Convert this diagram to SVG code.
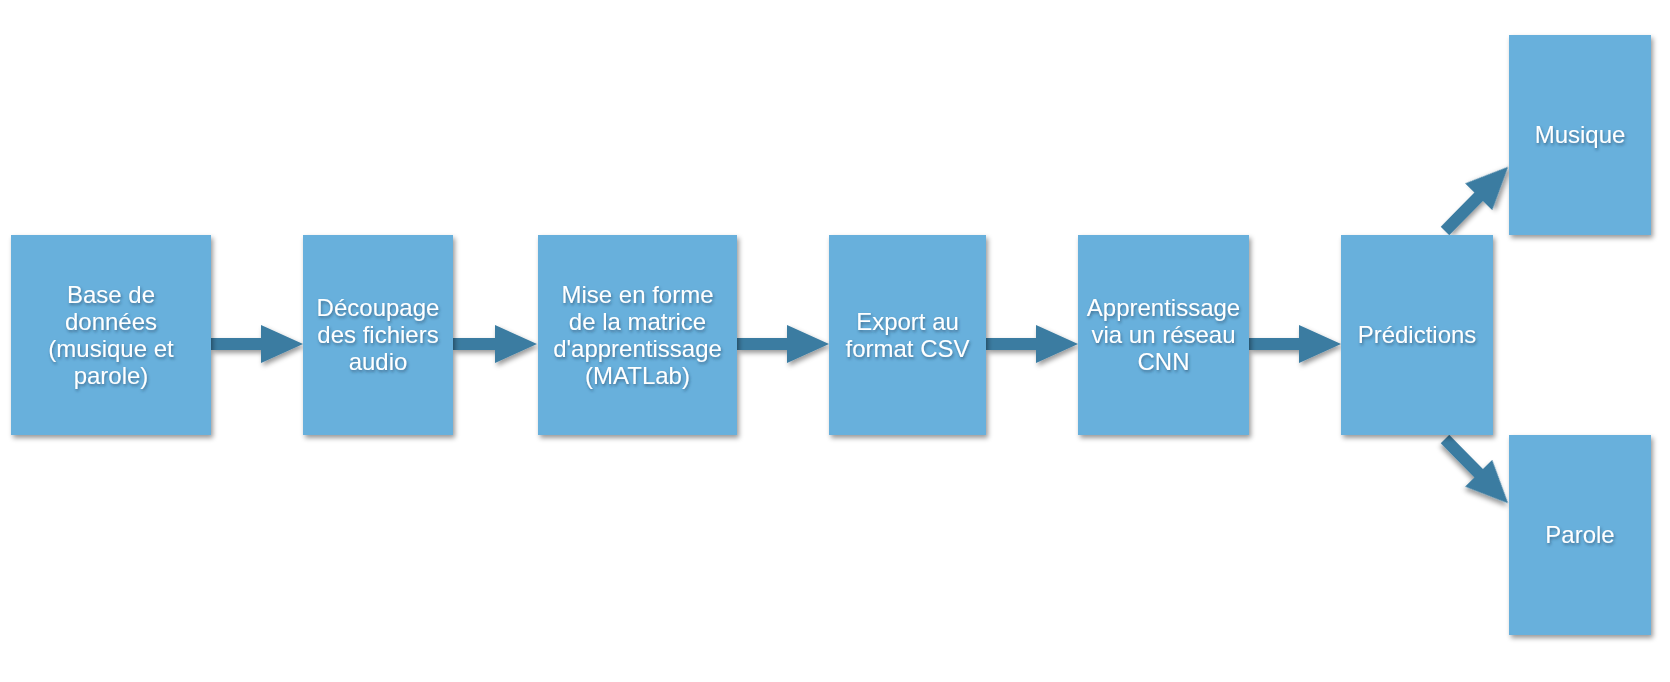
<svg xmlns="http://www.w3.org/2000/svg" width="1670" height="682" viewBox="0 0 1670 682">
<defs>
<filter id="sh" x="-10%" y="-10%" width="130%" height="130%">
<feDropShadow dx="2" dy="3" stdDeviation="2.5" flood-color="#000" flood-opacity="0.4"/>
</filter>
<filter id="tsh" x="-10%" y="-20%" width="130%" height="160%">
<feDropShadow dx="1" dy="2" stdDeviation="1.5" flood-color="#1a3a55" flood-opacity="0.55"/>
</filter>
<path id="diag" d="M0,-6 H48 V-19 L90,0 L48,19 V6 H0 Z"/>
</defs>
<style>
.box{fill:#67B0DC;filter:url(#sh)}
.lbl{font-family:"Liberation Sans",Arial,sans-serif;font-size:24px;fill:#fff;text-anchor:middle;filter:url(#tsh)}
.arr{fill:#3A7CA1;filter:url(#sh)}
</style>
<rect width="1670" height="682" fill="#fff"/>
<g id="connectors">
<path class="arr" d="M211,338 H261 V325 L303,344 L261,363 V350 H211 Z"/>
<path class="arr" d="M453,338 H495 V325 L537,344 L495,363 V350 H453 Z"/>
<path class="arr" d="M737,338 H787 V325 L829,344 L787,363 V350 H737 Z"/>
<path class="arr" d="M986,338 H1036 V325 L1078,344 L1036,363 V350 H986 Z"/>
<path class="arr" d="M1249,338 H1299 V325 L1341,344 L1299,363 V350 H1249 Z"/>
<use href="#diag" class="arr" transform="translate(1445,231) rotate(-45.5)"/>
<use href="#diag" class="arr" transform="translate(1445,439) rotate(45.5)"/>
</g>
<g id="n1">
<rect class="box" x="11" y="235" width="200" height="200"/>
<text class="lbl" x="111" y="303">Base de</text>
<text class="lbl" x="111" y="330">données</text>
<text class="lbl" x="111" y="357">(musique et</text>
<text class="lbl" x="111" y="384">parole)</text>
</g>
<g id="n2">
<rect class="box" x="303" y="235" width="150" height="200"/>
<text class="lbl" x="378" y="316">Découpage</text>
<text class="lbl" x="378" y="343">des fichiers</text>
<text class="lbl" x="378" y="370">audio</text>
</g>
<g id="n3">
<rect class="box" x="538" y="235" width="199" height="200"/>
<text class="lbl" x="637.5" y="303">Mise en forme</text>
<text class="lbl" x="637.5" y="330">de la matrice</text>
<text class="lbl" x="637.5" y="357">d'apprentissage</text>
<text class="lbl" x="637.5" y="384">(MATLab)</text>
</g>
<g id="n4">
<rect class="box" x="829" y="235" width="157" height="200"/>
<text class="lbl" x="907.5" y="330">Export au</text>
<text class="lbl" x="907.5" y="357">format CSV</text>
</g>
<g id="n5">
<rect class="box" x="1078" y="235" width="171" height="200"/>
<text class="lbl" x="1163.5" y="316">Apprentissage</text>
<text class="lbl" x="1163.5" y="343">via un réseau</text>
<text class="lbl" x="1163.5" y="370">CNN</text>
</g>
<g id="n6">
<rect class="box" x="1341" y="235" width="152" height="200"/>
<text class="lbl" x="1417" y="343">Prédictions</text>
</g>
<g id="n7">
<rect class="box" x="1509" y="35" width="142" height="200"/>
<text class="lbl" x="1580" y="143">Musique</text>
</g>
<g id="n8">
<rect class="box" x="1509" y="435" width="142" height="200"/>
<text class="lbl" x="1580" y="543">Parole</text>
</g>
</svg>
